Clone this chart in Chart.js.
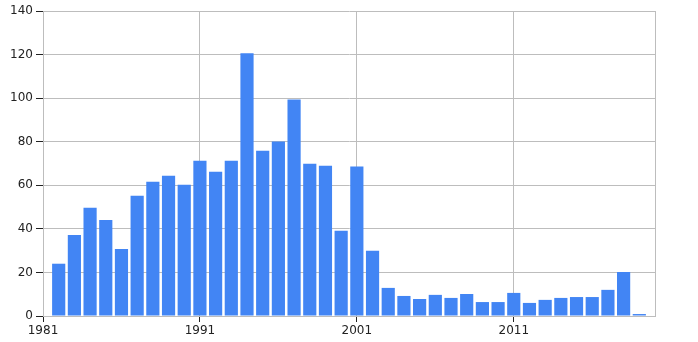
<!DOCTYPE html>
<html>
<head>
<meta charset="utf-8">
<script src="https://cdn.jsdelivr.net/npm/chart.js@4"></script>
<style>
html,body{margin:0;padding:0;background:#fff;}
#wrap{width:698px;height:342px;position:relative;}
</style>
</head>
<body>
<div id="wrap"><canvas id="c" width="698" height="342"></canvas></div>
<script>
const years = [1982,1983,1984,1985,1986,1987,1988,1989,1990,1991,1992,1993,1994,1995,1996,1997,1998,1999,2000,2001,2002,2003,2004,2005,2006,2007,2008,2009,2010,2011,2012,2013,2014,2015,2016,2017,2018,2019];
const values = [24,37.2,49.7,44.1,30.8,55.2,61.6,64.4,60.2,71.3,66.2,71.3,120.6,75.9,80.1,99.4,69.9,69,39.1,68.6,29.9,12.9,9.2,7.8,9.7,8.3,10.1,6.4,6.4,10.6,6,7.4,8.3,8.7,8.7,12,20.2,0.9];
const xTicks = [1981,1991,2001,2011];
const xMin = 1981, xMax = 2020;
const yMin = 0, yMax = 140, yStep = 20;

const gridColor = '#bdbdbd';
const textColor = '#222222';
const font = {family: 'DejaVu Sans', size: 12};

new Chart(document.getElementById('c'), {
  type: 'bar',
  data: {
    datasets: [{
      data: years.map((y, i) => ({x: y, y: values[i]})),
      backgroundColor: '#4285f4',
      borderWidth: 0,
      barPercentage: 0.84,
      categoryPercentage: 1.0
    }]
  },
  options: {
    responsive: false,
    animation: false,
    layout: {padding: {top: 11, right: 43, left: 0, bottom: 0}},
    plugins: {legend: {display: false}, tooltip: {enabled: false}},
    scales: {
      x: {
        type: 'linear',
        min: xMin, max: xMax,
        offset: false,
        afterBuildTicks: s => { s.ticks = xTicks.concat([xMax]).map(v => ({value: v})); },
        afterFit: s => { s.height = 26; },
        ticks: {
          color: textColor, font: font, padding: 2, maxRotation: 0, autoSkip: false,
          callback: v => (v === xMax ? '' : String(v))
        },
        grid: {
          offset: false,
          color: gridColor, lineWidth: 1, tickLength: 6,
          tickColor: ctx => (ctx.tick && ctx.tick.value === xMax ? 'rgba(0,0,0,0)' : '#222')
        },
        border: {color: gridColor, width: 1}
      },
      y: {
        min: yMin, max: yMax,
        afterFit: s => { s.width = 43; },
        ticks: {stepSize: yStep, color: textColor, font: font, padding: 3},
        grid: {color: gridColor, lineWidth: 1, tickLength: 7, tickColor: '#222'},
        border: {color: gridColor, width: 1}
      }
    }
  }
});
</script>
</body>
</html>
